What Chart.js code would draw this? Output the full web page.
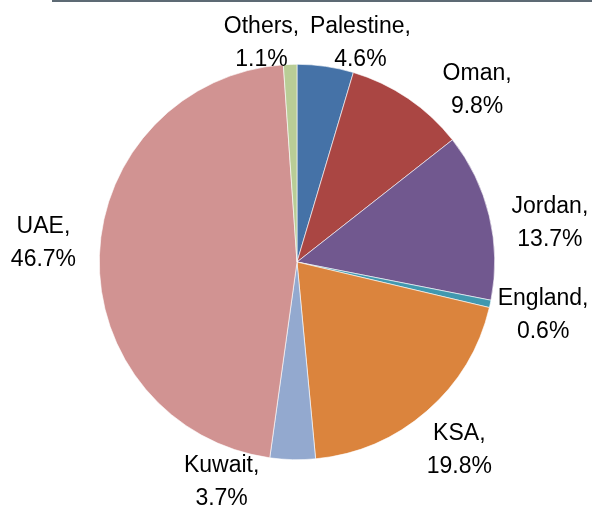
<!DOCTYPE html>
<html>
<head>
<meta charset="utf-8">
<script src="https://cdn.jsdelivr.net/npm/chart.js@4.4.0/dist/chart.umd.min.js"></script>
<style>
  body { margin: 0; background: #fff; }
  #wrap { position: relative; width: 592px; height: 507px; }
  #topline { position: absolute; left: 52px; right: 0; top: 0; height: 2px; background: #5d6a74; }
</style>
</head>
<body>
<div id="wrap">
  <canvas id="pie_chart" width="592" height="507"></canvas>
  <div id="topline"></div>
</div>
<script>
// data
var countries = ['Palestine', 'Oman', 'Jordan', 'England', 'KSA', 'Kuwait', 'UAE', 'Others']
var shares = [4.6, 9.8, 13.7, 0.6, 19.8, 3.7, 46.7, 1.1]
var sliceColors = ['#4572A7', '#AA4643', '#71588F', '#4198AF', '#DB843D', '#93A9CF', '#D19392', '#B9CD96']

// label placement tweaks (px), excel moves them around a bit
var labelNudge = [[28, 22], [42, 29], [14, 17], [6, -1], [1, 1], [-70, -27], [-8, -12], [-27, 25]]

var fontSize = 23

var labelPlugin = {
    id: 'pieLabels',
    afterDatasetsDraw: function(chart){
        var ctx = chart.ctx
        var meta = chart.getDatasetMeta(0)
        ctx.save()
        ctx.font = fontSize + 'px "Liberation Sans", Arial, sans-serif'
        ctx.fillStyle = '#000'
        ctx.textAlign = 'center'
        ctx.textBaseline = 'alphabetic'
        for(var i = 0; i < meta.data.length; i++){
            var arc = meta.data[i]
            var mid = (arc.startAngle + arc.endAngle) / 2
            var dist = arc.outerRadius + 48
            var cx = arc.x + Math.cos(mid) * dist + labelNudge[i][0]
            var cy = arc.y + Math.sin(mid) * dist + labelNudge[i][1]
            // cap centre -> baseline
            var off = 0.36 * fontSize
            ctx.fillText(countries[i] + ',', cx, cy - 16.5 + off)
            ctx.fillText(shares[i].toFixed(1) + '%', cx, cy + 16.5 + off)
        }
        ctx.restore()
    }
}

var ctx = document.getElementById('pie_chart').getContext('2d')
var myPie = new Chart(ctx, {
    type: 'pie',
    data: {
        labels: countries,
        datasets: [{
            data: shares,
            backgroundColor: sliceColors,
            borderColor: '#ffffff',
            borderWidth: 0.6
        }]
    },
    options: {
        responsive: false,
        animation: false,
        layout: {
            padding: { left: 99, right: 97, top: 64, bottom: 47 }
        },
        plugins: {
            legend: { display: false },
            tooltip: { enabled: false }
        }
    },
    plugins: [labelPlugin]
})
</script>
</body>
</html>
